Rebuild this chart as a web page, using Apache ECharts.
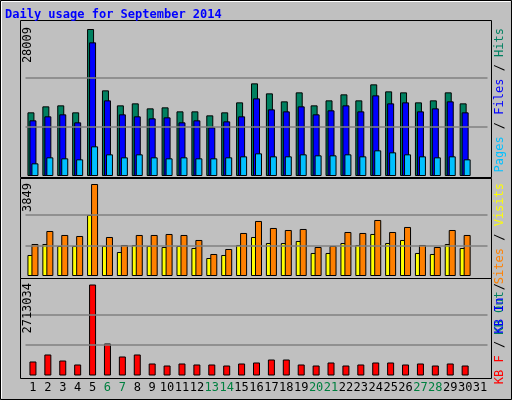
<!DOCTYPE html>
<html><head><meta charset="utf-8">
<script src="https://cdn.jsdelivr.net/npm/echarts@6/dist/echarts.min.js"></script>
<style>html,body{margin:0;padding:0;background:#c0c0c0}#c{width:512px;height:400px}</style>
</head><body><div id="c"></div>
<script>
const days = Array.from({length:31},(_,i)=>String(i+1));
const weekend = ['6','7','13','14','20','21','27','28'];
const hits  = [12129,13272,13462,12129,28009,16320,13462,13843,12891,13081,12319,12319,11557,12129,14034,17653,15748,14224,15939,13462,14415,15558,14415,17463,16129,15939,14034,14415,15939,13843,null];
const files = [10605,11367,11748,10224,25464,14415,11748,11367,10986,11176,10224,10605,9271,10414,11367,14796,12700,12319,13272,11748,12510,13462,12319,15367,13843,14034,12319,12891,14224,12129,null];
const pages = [2413,3556,3366,3175,5652,4128,3556,4128,3556,3366,3556,3366,3366,3556,3747,4318,3747,3747,4128,3937,3937,4128,3747,4890,4509,4128,3747,3556,3747,3175,null];
const visits= [879,1339,1256,1256,2553,1256,1004,1297,1256,1214,1256,1172,753,879,1297,1632,1381,1381,1465,963,963,1381,1297,1758,1381,1507,963,921,1339,1172,null];
const sites = [1339,1883,1716,1674,3849,1632,1297,1716,1716,1758,1716,1507,921,1130,1800,2302,2009,1925,1967,1214,1256,1841,1800,2344,1841,2051,1297,1214,1925,1716,null];
const kbF   = [417400,626100,447200,328000,2713034,954000,566500,626100,357800,298100,357800,328000,328000,298100,357800,387600,477000,477000,328000,298100,387600,298100,328000,387600,387600,328000,357800,298100,357800,298100,null];
const maxHits=28009, maxSites=3849, maxKB=2713034;

const chart = echarts.init(document.getElementById('c'));
const mono = "'DejaVu Sans Mono', monospace";
const panels = [{top:25,h:151,max:maxHits*151/147,ref:maxHits},{top:180,h:96,max:maxSites*96/92,ref:maxSites},{top:280,h:95.5,max:maxKB*95.5/91,ref:maxKB}];
const grids = panels.map(p=>({left:25.5,width:462,top:p.top,height:p.h}));
const xAxes = panels.map((p,i)=>({type:'category',gridIndex:i,data:days,
  axisLine:{show:false},axisTick:{show:false},
  axisLabel:{show:i===2,interval:0,margin:6,fontFamily:mono,fontSize:12,
    formatter:v=>weekend.includes(v)?'{w|'+v+'}':'{n|'+v+'}',
    rich:{w:{color:'#008040',fontFamily:mono,fontSize:12},n:{color:'#000',fontFamily:mono,fontSize:12}}}}));
const yAxes = panels.map((p,i)=>({type:'value',gridIndex:i,min:0,max:p.max,show:false,splitLine:{show:false}}));
const ml = r=>({silent:true,symbol:'none',label:{show:false},lineStyle:{color:'#808080',type:'solid',width:1.5},
  data:[{yAxis:r/3},{yAxis:2*r/3}]});
const bs = (name,data,color,xi,extra)=>Object.assign({type:'bar',name,data,xAxisIndex:xi,yAxisIndex:xi,barWidth:7,
  itemStyle:{color,borderColor:'#000',borderWidth:1},animation:false,silent:true},extra||{});
const series = [
  bs('Hits',hits,'#008060',0,{barGap:'-71.43%',markLine:ml(maxHits)}),
  bs('Files',files,'#0000ff',0),
  bs('Pages',pages,'#00c0ff',0),
  bs('Visits',visits,'#ffff00',1,{barGap:'-42.86%',markLine:ml(maxSites)}),
  bs('Sites',sites,'#ff8000',1),
  bs('KB F',kbF,'#ff0000',2,{markLine:ml(maxKB)})
];
const rot = (x,y,text,rich)=>({type:'text',x,y,rotation:Math.PI/2,z:10,
  style:{text,x:0,y:0,align:'right',verticalAlign:'middle',font:'12px '+mono,fill:'#000',rich}});
const R = c=>({fill:c,font:'12px '+mono});
const graphic = [
  {type:'rect',shape:{x:0.5,y:0.5,width:511,height:399},style:{fill:'#c0c0c0',stroke:'#000',lineWidth:1},z:-10},
  {type:'polyline',shape:{points:[[1.5,398.5],[1.5,1.5],[510.5,1.5]]},style:{stroke:'#fff',fill:null},z:-9},
  ...panels.map((p,i)=>({type:'rect',shape:{x:20.5,y:[20.5,178.5,278.5][i],width:471,height:[157,100,100][i]},style:{fill:'#c0c0c0',stroke:'#000',lineWidth:1},z:-8})),
  {type:'text',x:5,y:15,style:{text:'Daily usage for September 2014',font:'bold 12px '+mono,fill:'#0000ff',verticalAlign:'middle'}},
  rot(28,27,String(maxHits)),rot(28,183,String(maxSites)),rot(28,283,String(maxKB)),
  rot(500,28,'{a|Pages}{k| / }{b|Files}{k| / }{c|Hits}',{a:R('#00c0ff'),b:R('#0000ff'),c:R('#008060'),k:R('#000')}),
  rot(500,183,'{a|KB Out}{k| }{b|Sites}{k| / }{c|Visits}',{a:R('#008060'),b:R('#ff8000'),c:R('#ffff00'),k:R('#000')}),
  rot(500,283,'{a|KB F}{k| / }{b|KB In}{k| /}',{a:R('#ff0000'),b:R('#0000ff'),k:R('#000')})
];
chart.setOption({animation:false,backgroundColor:'#c0c0c0',grid:grids,xAxis:xAxes,yAxis:yAxes,series,graphic});
</script></body></html>
